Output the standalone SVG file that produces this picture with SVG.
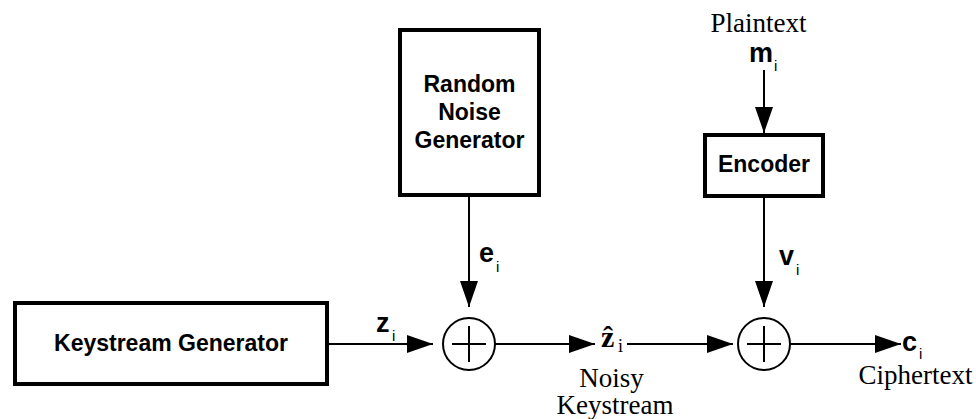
<svg xmlns="http://www.w3.org/2000/svg" width="976" height="419" viewBox="0 0 976 419">
<style>
.box{fill:#fff;stroke:#000;stroke-width:4}
.lbl{font-family:"Liberation Sans",Arial,sans-serif;font-weight:bold;font-size:23px;fill:#000;text-anchor:middle}
.sym{font-family:"Liberation Sans",Arial,sans-serif;font-weight:bold;font-size:27px;fill:#000}
.sub{font-family:"Liberation Sans",Arial,sans-serif;font-size:15px;fill:#000}
.ser{font-family:"Liberation Serif","Times New Roman",serif;font-size:27px;fill:#000;text-anchor:middle}
.wire{stroke:#000;stroke-width:2;fill:none}
.xor{fill:#fff;stroke:#000;stroke-width:2}
</style>
<defs>
<marker id="ah" markerUnits="userSpaceOnUse" markerWidth="26" markerHeight="18" refX="26" refY="9" orient="auto">
<path d="M0,0 L26,9 L0,18 Z" fill="#000"/>
</marker>
</defs>
<rect width="976" height="419" fill="#fff"/>
<g id="connectors">
<line class="wire" x1="329" y1="344" x2="433" y2="344" marker-end="url(#ah)"/>
<line class="wire" x1="469" y1="197" x2="469" y2="307" marker-end="url(#ah)"/>
<line class="wire" x1="495" y1="344" x2="595" y2="344" marker-end="url(#ah)"/>
<line class="wire" x1="627" y1="344" x2="733" y2="344" marker-end="url(#ah)"/>
<line class="wire" x1="764" y1="70" x2="764" y2="133" marker-end="url(#ah)"/>
<line class="wire" x1="764" y1="198" x2="764" y2="307" marker-end="url(#ah)"/>
<line class="wire" x1="790" y1="344" x2="901" y2="344" marker-end="url(#ah)"/>
</g>
<g id="keystream-generator">
<rect class="box" x="15" y="303" width="312" height="81"/>
<text class="lbl" x="171" y="351">Keystream Generator</text>
</g>
<g id="random-noise-generator">
<rect class="box" x="400" y="30" width="139" height="165"/>
<text class="lbl" x="469.5" y="92">Random</text>
<text class="lbl" x="469.5" y="120">Noise</text>
<text class="lbl" x="469.5" y="148">Generator</text>
</g>
<g id="encoder">
<rect class="box" x="705" y="135" width="118" height="61"/>
<text class="lbl" x="764" y="172">Encoder</text>
</g>
<g id="xor1">
<circle class="xor" cx="469" cy="344" r="26"/>
<line class="wire" x1="452" y1="344" x2="486" y2="344"/>
<line class="wire" x1="469" y1="326" x2="469" y2="362"/>
</g>
<g id="xor2">
<circle class="xor" cx="764" cy="344" r="26"/>
<line class="wire" x1="747" y1="344" x2="781" y2="344"/>
<line class="wire" x1="764" y1="326" x2="764" y2="362"/>
</g>
<g id="labels">
<text class="sym" x="376" y="332">z</text><text class="sub" x="392" y="341">i</text>
<text class="sym" x="479" y="262">e</text><text class="sub" x="496" y="272">i</text>
<text class="sym" x="779" y="265">v</text><text class="sub" x="796" y="275">i</text>
<text class="sym" x="749" y="62">m</text><text class="sub" x="774" y="71">i</text>
<text class="sym" x="902" y="351">c</text><text class="sub" x="919" y="359">i</text>
<text x="601" y="347" style="font-family:'Liberation Serif','Times New Roman',serif;font-weight:bold;font-size:30px">ẑ</text>
<text x="618" y="352" style="font-family:'Liberation Serif','Times New Roman',serif;font-size:18px">i</text>
<text class="ser" x="758.5" y="32">Plaintext</text>
<text class="ser" x="611.5" y="387">Noisy</text>
<text class="ser" x="615" y="414">Keystream</text>
<text class="ser" x="915.5" y="384">Ciphertext</text>
</g>
</svg>
